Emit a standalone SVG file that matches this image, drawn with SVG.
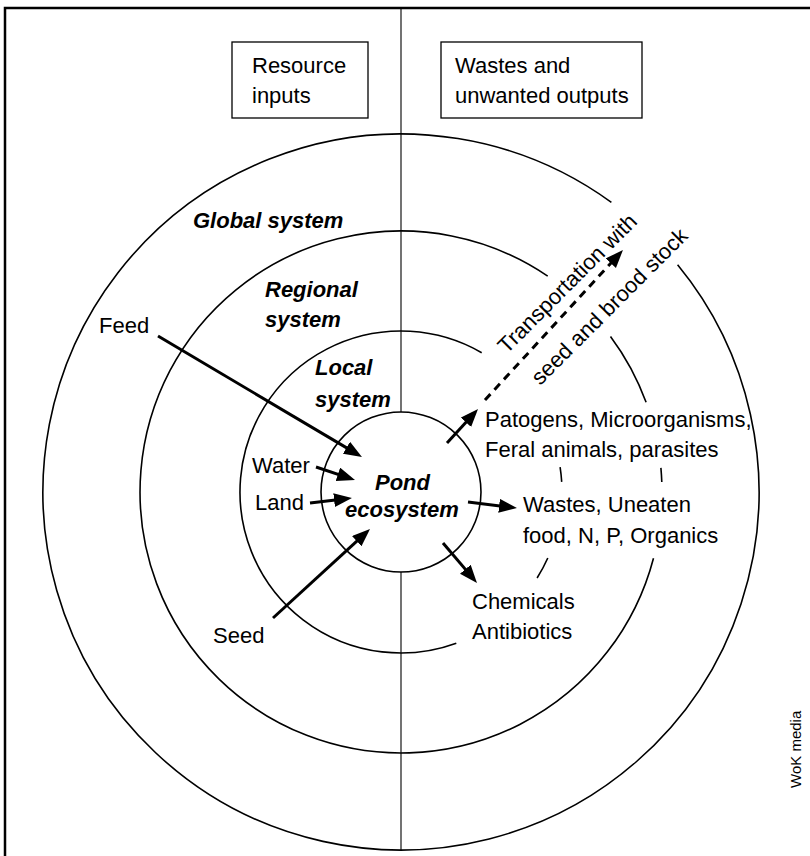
<svg xmlns="http://www.w3.org/2000/svg" width="810" height="856" viewBox="0 0 810 856">
<defs>
<style>
.t{font-family:"Liberation Sans",Arial,Helvetica,sans-serif;font-size:22px;fill:#000}
.bi{font-weight:bold;font-style:italic}
.ring{fill:none;stroke:#000;stroke-width:1.6}
.box{fill:#fff;stroke:#000;stroke-width:1.3}
.arr{stroke:#000;stroke-width:3;fill:none;marker-end:url(#ah)}
.dash{stroke-dasharray:8 6}
</style>
<marker id="ah" markerUnits="userSpaceOnUse" markerWidth="20" markerHeight="16" refX="12" refY="7" orient="auto"><path d="M0,0 L18,7 L0,14 z" fill="#000"/></marker>
</defs>
<rect width="810" height="856" fill="#fff"/>
<g id="frame">
<path d="M5,856 V8 H810" fill="none" stroke="#000" stroke-width="2.5"/>
<path d="M401,8 V412 M401,572 V850" fill="none" stroke="#000" stroke-width="1.1"/>
</g>
<g id="box-resource">
<rect class="box" x="232" y="42" width="136" height="76"/>
<text class="t" x="252" y="73">Resource</text>
<text class="t" x="252" y="103">inputs</text>
</g>
<g id="box-wastes">
<rect class="box" x="441" y="42" width="201" height="76"/>
<text class="t" x="455" y="73">Wastes and</text>
<text class="t" x="455" y="103">unwanted outputs</text>
</g>
<g id="global-system">
<path class="ring" d="M611.4,202.4 A358,358 0 1 0 677.6,264.8"/>
<text class="t bi" x="193" y="228">Global system</text>
</g>
<g id="regional-system">
<path class="ring" d="M547.7,276.1 A261,261 0 1 0 653.5,558.2"/>
<path class="ring" d="M610.5,336.4 A261,261 0 0 1 646.1,402.3"/>
<path class="ring" d="M660.9,467.9 A261,261 0 0 1 661.8,482"/>
<text class="t bi" x="265" y="297">Regional</text>
<text class="t bi" x="265" y="327">system</text>
</g>
<g id="local-system">
<path class="ring" d="M481.7,352.7 A161,161 0 1 0 456.3,643.2"/>
<path class="ring" d="M560.1,467.1 A161,161 0 0 1 561.7,481.9"/>
<path class="ring" d="M547.8,558 A161,161 0 0 1 537.1,578"/>
<text class="t bi" x="315" y="375">Local</text>
<text class="t bi" x="315" y="407">system</text>
</g>
<g id="pond-ecosystem">
<circle class="ring" cx="401" cy="492" r="80"/>
<text class="t bi" x="375" y="490">Pond</text>
<text class="t bi" x="345" y="517">ecosystem</text>
</g>
<g id="feed"><text class="t" x="99" y="333">Feed</text></g>
<g id="water"><text class="t" x="252" y="473">Water</text></g>
<g id="land"><text class="t" x="255" y="510">Land</text></g>
<g id="seed"><text class="t" x="213" y="643">Seed</text></g>
<g id="pathogens">
<text class="t" x="485" y="427">Patogens, Microorganisms,</text>
<text class="t" x="485" y="457">Feral animals, parasites</text>
</g>
<g id="wastes">
<text class="t" x="523" y="512">Wastes, Uneaten</text>
<text class="t" x="523" y="543">food, N, P, Organics</text>
</g>
<g id="chemicals">
<text class="t" x="472" y="609">Chemicals</text>
<text class="t" x="472" y="639">Antibiotics</text>
</g>
<g id="transportation">
<text class="t" text-anchor="middle" y="8" transform="translate(567,283) rotate(-45)">Transportation with</text>
<text class="t" text-anchor="middle" y="8" transform="translate(609,306) rotate(-45)">seed and brood stock</text>
</g>
<g id="credit">
<text class="t" style="font-size:15px" transform="translate(801,788) rotate(-90)">WoK media</text>
</g>
<g id="connectors">
<line class="arr" x1="158" y1="336" x2="356.8" y2="453.9"/>
<line class="arr" x1="316" y1="467" x2="349.3" y2="478.1"/>
<line class="arr" x1="310" y1="503" x2="346" y2="498.7"/>
<line class="arr" x1="273" y1="618" x2="365.6" y2="533.1"/>
<line class="arr" x1="447" y1="443" x2="474" y2="413.4"/>
<line class="arr" x1="468" y1="502" x2="511" y2="507.3"/>
<line class="arr" x1="443" y1="543" x2="473.1" y2="578.4"/>
<line class="arr dash" x1="485" y1="400" x2="618.9" y2="254.4"/>
</g>
</svg>
